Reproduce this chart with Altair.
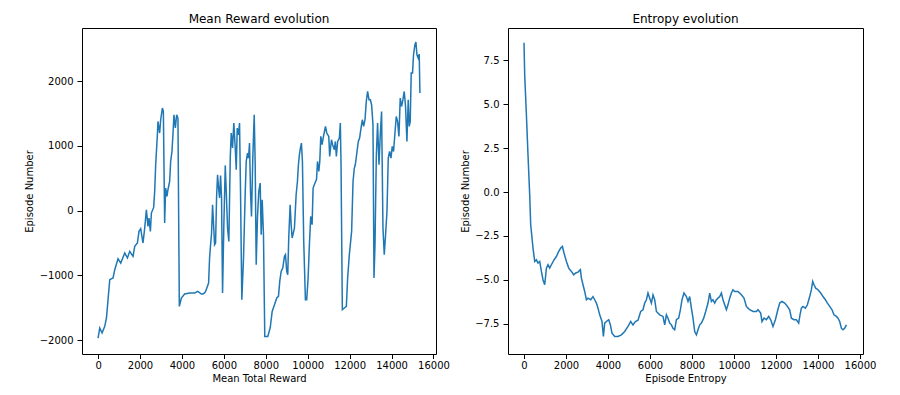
import altair as alt
import pandas as pd

# ---- Left panel: Mean Reward evolution ----
reward_x = [0, 81, 190, 319, 400, 557, 714, 795, 952, 1081, 1272, 1400, 1510, 1667, 1748, 1876,
            1952, 2033, 2143, 2224, 2305, 2381, 2429, 2495, 2543, 2652, 2700, 2748, 2829, 2857,
            2938, 2986, 3067, 3114, 3176, 3224, 3286, 3333, 3414, 3462, 3524, 3572, 3619, 3686,
            3748, 3810, 3876, 3972, 4129, 4367, 4605, 4762, 4924, 5000, 5081, 5129, 5272, 5319,
            5367, 5414, 5462, 5510, 5557, 5605, 5652, 5700, 5748, 5795, 5843, 5890, 5938, 6000,
            6067, 6114, 6176, 6238, 6305, 6352, 6414, 6476, 6543, 6591, 6638, 6700, 6748, 6795,
            6857, 6938, 7019, 7067, 7129, 7176, 7224, 7271, 7319, 7381, 7448, 7495, 7543, 7605,
            7667, 7733, 7781, 7829, 7890, 7952, 8095, 8210, 8305, 8415, 8524, 8605, 8667, 8733,
            8810, 8891, 8938, 9000, 9048, 9095, 9162, 9210, 9257, 9367, 9448, 9510, 9557, 9605,
            9652, 9700, 9748, 9810, 9891, 9952, 10019, 10081, 10143, 10210, 10257, 10338, 10419,
            10467, 10529, 10576, 10624, 10686, 10752, 10848, 10910, 11005, 11048, 11133, 11190,
            11271, 11319, 11367, 11429, 11510, 11557, 11590, 11652, 11748, 11843, 11905, 11986,
            12095, 12162, 12224, 12271, 12352, 12414, 12476, 12543, 12605, 12667, 12733, 12795,
            12857, 12924, 12986, 13048, 13114, 13162, 13210, 13271, 13333, 13400, 13462, 13524,
            13590, 13652, 13714, 13781, 13843, 13905, 13972, 14033, 14095, 14162, 14224, 14286,
            14352, 14414, 14476, 14543, 14605, 14667, 14733, 14795, 14843, 14890, 14938, 15000,
            15048, 15114, 15162, 15210, 15271, 15319, 15353]
reward_y = [-1966, -1811, -1888, -1786, -1657, -1065, -1039, -911, -741, -808, -653, -730, -628,
            -705, -551, -499, -319, -278, -499, -268, 15, -242, -113, -319, -36, 51, 298, 710,
            1173, 1379, 1200, 1405, 1586, 1533, -190, 350, 221, 324, 452, 761, 915, 1173, 1482,
            1277, 1482, 1431, -1478, -1348, -1286, -1271, -1271, -1246, -1286, -1286, -1271,
            -1246, -1117, -730, -525, -344, 93, -216, -525, -499, 196, 556, 350, 196, 545, 196,
            -1271, -216, 700, 298, -268, -474, 813, 1200, 968, 1354, 968, 633, 1277, 1173, 1354,
            298, -1374, -730, 273, 761, 891, 813, 1045, 298, -88, 813, 1482, 710, -834, -88, 298,
            427, -371, 170, -371, -1941, -1941, -1811, -1555, -1451, -1348, -1323, -1091, -937,
            -885, -705, -679, -937, -988, -422, 93, -216, -422, -268, 247, 452, 710, 865, 968,
            1045, 761, -474, -1374, -1374, -1039, -525, -88, -216, 350, 420, 480, 761, 607, 761,
            1148, 1019, 1148, 1302, 1200, 1148, 838, 1096, 1019, 942, 1070, 838, 1070, 1122, 1354,
            710, -1529, -1502, -1478, -1039, -679, -319, 452, 659, 710, 915, 1070, 1122, 1277,
            1405, 1302, 1405, 1688, 1842, 1714, 1714, 1637, 1328, -1039, -525, 813, 1354, 710,
            1173, 1533, -268, -679, -371, -11, 813, 915, 813, 993, 915, 1200, 1456, 1379, 1148,
            1740, 1610, 1714, 1842, 1610, 1070, 1714, 1302, 1379, 2126, 2126, 2409, 2563, 2604,
            2409, 2358, 2419, 1817]

# ---- Right panel: Entropy evolution ----
entropy_x = [0, 33, 114, 190, 271, 319, 429, 510, 590, 667, 748, 829, 905, 986, 1067, 1143, 1224,
             1305, 1429, 1543, 1652, 1748, 1829, 1905, 2019, 2129, 2257, 2367, 2462, 2571, 2686,
             2733, 2810, 2890, 2971, 3048, 3176, 3286, 3367, 3448, 3524, 3605, 3714, 3781, 3843,
             3924, 4033, 4114, 4190, 4319, 4476, 4638, 4795, 4952, 5081, 5190, 5305, 5429, 5557,
             5667, 5748, 5829, 5905, 5986, 6067, 6143, 6224, 6305, 6462, 6619, 6700, 6781, 6857,
             6938, 7019, 7095, 7176, 7257, 7367, 7448, 7524, 7619, 7733, 7810, 7890, 7971, 8048,
             8129, 8210, 8286, 8367, 8448, 8557, 8652, 8762, 8843, 8924, 9000, 9081, 9162, 9238,
             9319, 9400, 9476, 9557, 9638, 9714, 9795, 9876, 9952, 10033, 10190, 10352, 10476,
             10590, 10667, 10748, 10905, 11067, 11143, 11271, 11333, 11429, 11543, 11652, 11748,
             11857, 11971, 12067, 12176, 12286, 12414, 12543, 12652, 12733, 12857, 12971, 13081,
             13143, 13210, 13286, 13400, 13495, 13605, 13686, 13748, 13810, 13890, 14000, 14129,
             14238, 14352, 14448, 14557, 14667, 14762, 14876, 14952, 15033, 15114, 15190, 15271,
             15353]
entropy_y = [8.5, 6.68, 4.40, 2.12, -0.15, -1.86, -3.19, -3.95, -3.86, -4.04, -3.95, -4.52, -4.99,
             -5.28, -4.33, -4.14, -4.33, -4.14, -3.86, -3.67, -3.38, -3.19, -3.10, -3.47, -3.95,
             -4.33, -4.52, -4.71, -4.61, -4.56, -4.42, -4.90, -5.28, -5.66, -6.13, -6.04, -6.13,
             -5.95, -6.13, -6.32, -6.61, -6.99, -7.37, -8.22, -7.46, -7.37, -7.27, -7.56, -8.03,
             -8.22, -8.22, -8.13, -7.94, -7.65, -7.37, -7.56, -7.37, -7.30, -6.80, -6.70, -6.32,
             -6.13, -5.75, -6.04, -6.32, -5.85, -6.13, -6.80, -6.99, -7.08, -7.56, -6.99, -7.18,
             -7.46, -7.56, -7.75, -7.84, -7.27, -7.18, -6.70, -6.13, -5.75, -5.95, -6.23, -5.95,
             -6.61, -7.18, -7.94, -8.13, -7.84, -7.56, -7.46, -7.18, -6.80, -6.32, -5.75, -6.23,
             -6.13, -6.32, -6.13, -6.04, -5.95, -5.75, -6.13, -6.42, -6.70, -6.42, -6.04, -5.75,
             -5.56, -5.66, -5.66, -5.85, -6.04, -6.51, -6.61, -6.70, -6.80, -6.80, -6.70, -6.89,
             -7.37, -7.18, -7.27, -7.08, -7.27, -7.65, -7.27, -6.80, -6.32, -6.23, -6.32, -6.51,
             -6.70, -7.18, -7.27, -7.27, -7.46, -6.99, -6.61, -6.51, -6.61, -6.42, -5.95, -5.56,
             -5.09, -5.28, -5.47, -5.56, -5.75, -5.95, -6.13, -6.32, -6.51, -6.70, -6.99, -7.08,
             -7.18, -7.37, -7.75, -7.84, -7.75, -7.56]

x_ticks = [0, 2000, 4000, 6000, 8000, 10000, 12000, 14000, 16000]
reward_ticks = [-2000, -1000, 0, 1000, 2000]
entropy_ticks = [-7.5, -5.0, -2.5, 0.0, 2.5, 5.0, 7.5]

FONT = "DejaVu Sans"
BLUE = "#1f77b4"

reward_df = pd.DataFrame({"x": reward_x, "y": reward_y})
entropy_df = pd.DataFrame({"x": entropy_x, "y": entropy_y})

axis_style = dict(labelFont=FONT, titleFont=FONT, labelFontSize=10, titleFontSize=10,
                  labelColor="black", titleColor="black", tickColor="black", tickWidth=1,
                  titleFontWeight="normal", domain=False, grid=False)

x_axis = dict(values=x_ticks, format="d", tickSize=4.5, labelPadding=2, titlePadding=3,
              **axis_style)

left = alt.Chart(reward_df).mark_line(color=BLUE, strokeWidth=1.5, clip=True).encode(
    x=alt.X("x:Q", title="Mean Total Reward",
            scale=alt.Scale(domain=[-767, 16120], nice=False, zero=False),
            axis=alt.Axis(**x_axis)),
    y=alt.Y("y:Q", title="Episode Number",
            scale=alt.Scale(domain=[-2213, 2822], nice=False, zero=False),
            axis=alt.Axis(values=reward_ticks, format="d", tickSize=5, labelPadding=4,
                          minExtent=42, maxExtent=42, titlePadding=6, **axis_style)),
).properties(width=354, height=326,
             title=alt.TitleParams("Mean Reward evolution", fontSize=12, font=FONT,
                                   fontWeight="normal", color="black", offset=2))

right = alt.Chart(entropy_df).mark_line(color=BLUE, strokeWidth=1.5, clip=True).encode(
    x=alt.X("x:Q", title="Episode Entropy",
            scale=alt.Scale(domain=[-762, 16143], nice=False, zero=False),
            axis=alt.Axis(**x_axis)),
    y=alt.Y("y:Q", title="Episode Number",
            scale=alt.Scale(domain=[-9.22, 9.34], nice=False, zero=False),
            axis=alt.Axis(values=entropy_ticks, format=".1f", tickSize=5, labelPadding=4,
                          minExtent=34, maxExtent=34, titlePadding=4, **axis_style)),
).properties(width=355, height=326,
             title=alt.TitleParams("Entropy evolution", fontSize=12, font=FONT,
                                   fontWeight="normal", color="black", offset=2))

chart = alt.HConcatChart(hconcat=[left, right], spacing=72, bounds="flush").properties(
    padding={"left": 15, "top": 4, "right": 5, "bottom": 5},
    background="white"
).configure_view(
    stroke="black", strokeWidth=1
)

chart.save("out.html", embed_options={"renderer": "svg", "actions": False})
